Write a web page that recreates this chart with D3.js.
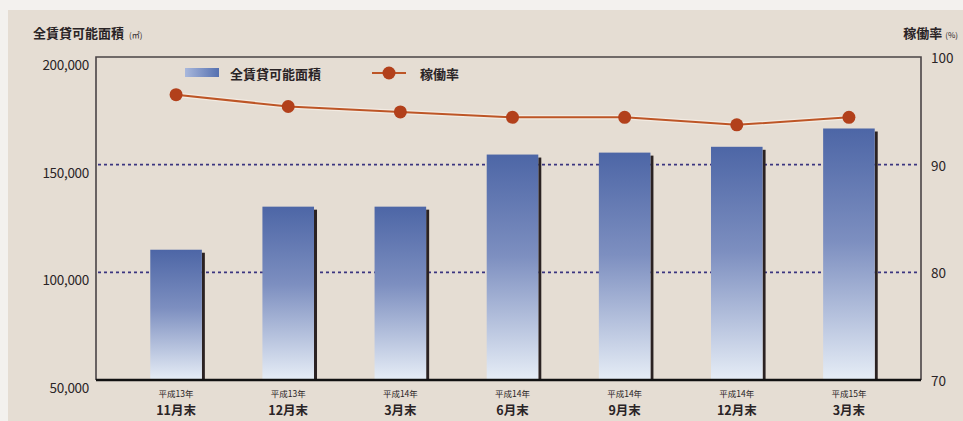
<!DOCTYPE html>
<html>
<head>
<meta charset="utf-8">
<script src="https://cdn.jsdelivr.net/npm/d3@7"></script>
<style>
  html, body { margin: 0; padding: 0; background: #f3f1ee; }
  svg { display: block; }
  text { font-family: "Noto Sans CJK JP", "Noto Sans", sans-serif; fill: #2a2426; }
</style>
</head>
<body>
<svg id="chart" width="963" height="421"></svg>
<script>
// Period labels (year line / month line)
const years = ["平成13年", "平成13年", "平成14年", "平成14年", "平成14年", "平成14年", "平成15年"];
const months = ["11月末", "12月末", "3月末", "6月末", "9月末", "12月末", "3月末"];
// Total leasable floor area (㎡)
const areaValues = [110500, 130500, 130500, 154700, 155600, 158300, 166800];
// Occupancy rate (%)
const occupancyValues = [96.5, 95.4, 94.9, 94.4, 94.4, 93.7, 94.4];
// Axis ticks
const areaTicks = [50000, 100000, 150000, 200000];
const rateTicks = [70, 80, 90, 100];
const gridTicks = [100000, 150000];

const svg = d3.select("#chart");
const W = 963, H = 421;
const plot = { left: 96, right: 921, top: 57, bottom: 380 };

// page background
svg.append("rect").attr("x", 8).attr("y", 10).attr("width", W - 8).attr("height", H - 10).attr("fill", "#e5ddd3");

const idx = d3.range(areaValues.length);
const x = d3.scaleBand().domain(idx).range([120, 905]).paddingInner(0.54).paddingOuter(0.27);
const yL = d3.scaleLinear().domain([50000, 200000]).range([plot.bottom, plot.top]);
const yR = d3.scaleLinear().domain([70, 100]).range([plot.bottom, plot.top]);

const defs = svg.append("defs");
const grad = defs.append("linearGradient").attr("id", "barGrad").attr("x1", 0).attr("y1", 0).attr("x2", 0).attr("y2", 1);
grad.append("stop").attr("offset", "0%").attr("stop-color", "#4d66a6");
grad.append("stop").attr("offset", "45%").attr("stop-color", "#7d8fc0");
grad.append("stop").attr("offset", "100%").attr("stop-color", "#e6edf6");
const lgGrad = defs.append("linearGradient").attr("id", "legGrad").attr("x1", 0).attr("y1", 0).attr("x2", 1).attr("y2", 0);
lgGrad.append("stop").attr("offset", "0%").attr("stop-color", "#a9b8dc");
lgGrad.append("stop").attr("offset", "100%").attr("stop-color", "#5570b0");

// plot frame
svg.append("path")
  .attr("d", `M${plot.left},${plot.bottom} V${plot.top} H${plot.right} V${plot.bottom}`)
  .attr("fill", "none").attr("stroke", "#4a4446").attr("stroke-width", 1.6);

// dotted grid lines
svg.append("g").selectAll("line").data(gridTicks).join("line")
  .attr("x1", plot.left + 2).attr("x2", plot.right - 3)
  .attr("y1", d => yL(d)).attr("y2", d => yL(d))
  .attr("stroke", "#3b3580").attr("stroke-width", 1.6).attr("stroke-dasharray", "3,3");

// bars with a dark right-side shadow
const bars = svg.append("g");
bars.selectAll("rect.shadow").data(idx).join("rect").attr("class", "shadow")
  .attr("x", i => x(i) + x.bandwidth())
  .attr("y", i => yL(areaValues[i]) + 3)
  .attr("width", 3)
  .attr("height", i => plot.bottom - yL(areaValues[i]) - 3)
  .attr("fill", "#2b2222");
bars.selectAll("rect.bar").data(idx).join("rect").attr("class", "bar")
  .attr("x", i => x(i))
  .attr("y", i => yL(areaValues[i]))
  .attr("width", x.bandwidth())
  .attr("height", i => plot.bottom - yL(areaValues[i]))
  .attr("fill", "url(#barGrad)");

// baseline
svg.append("line").attr("x1", plot.left).attr("x2", plot.right)
  .attr("y1", plot.bottom).attr("y2", plot.bottom)
  .attr("stroke", "#111").attr("stroke-width", 2.4);

// occupancy line
const cx = i => x(i) + x.bandwidth() / 2;
const line = d3.line().x(i => cx(i)).y(i => yR(occupancyValues[i]));
svg.append("path").datum(idx).attr("d", line)
  .attr("fill", "none").attr("stroke", "#f6efe6").attr("stroke-width", 4.5).attr("opacity", 0.8);
svg.append("path").datum(idx).attr("d", line)
  .attr("fill", "none").attr("stroke", "#bd5526").attr("stroke-width", 2);
svg.append("g").selectAll("circle").data(idx).join("circle")
  .attr("cx", i => cx(i)).attr("cy", i => yR(occupancyValues[i]))
  .attr("r", 6.5).attr("fill", "#b2401b");

// left axis labels
svg.append("g").selectAll("text").data(areaTicks).join("text")
  .attr("x", 89).attr("y", d => yL(d) + 7)
  .attr("text-anchor", "end").attr("dominant-baseline", "central")
  .attr("font-size", 13.5).attr("letter-spacing", -0.3)
  .text(d => d3.format(",")(d));

// right axis labels
svg.append("g").selectAll("text").data(rateTicks).join("text")
  .attr("x", 931).attr("y", d => yR(d))
  .attr("dominant-baseline", "central")
  .attr("font-size", 13.5)
  .text(d => d);

// axis titles
const t1 = svg.append("text").attr("x", 33).attr("y", 38).attr("font-size", 13).attr("font-weight", 700);
t1.append("tspan").text("全賃貸可能面積");
t1.append("tspan").attr("font-size", 8).attr("font-weight", 400).attr("dx", 5).text("(㎡)");
const t2 = svg.append("text").attr("x", 958).attr("y", 38).attr("font-size", 13).attr("font-weight", 700).attr("text-anchor", "end");
t2.append("tspan").text("稼働率");
t2.append("tspan").attr("font-size", 8).attr("font-weight", 400).attr("dx", 3).text("(%)");

// category labels
const cats = svg.append("g").selectAll("g").data(idx).join("g");
cats.append("text").attr("x", i => cx(i)).attr("y", 397)
  .attr("text-anchor", "middle").attr("font-size", 8.5).text(i => years[i]);
cats.append("text").attr("x", i => cx(i)).attr("y", 415)
  .attr("text-anchor", "middle").attr("font-size", 12.5).attr("font-weight", 700).text(i => months[i]);

// legend
const lg = svg.append("g");
lg.append("rect").attr("x", 185).attr("y", 68).attr("width", 34).attr("height", 9).attr("fill", "url(#legGrad)");
lg.append("text").attr("x", 230).attr("y", 73).attr("dominant-baseline", "central")
  .attr("font-size", 13).attr("font-weight", 700).text("全賃貸可能面積");
lg.append("line").attr("x1", 372).attr("x2", 406).attr("y1", 73).attr("y2", 73)
  .attr("stroke", "#bd5526").attr("stroke-width", 2);
lg.append("circle").attr("cx", 389).attr("cy", 73).attr("r", 6.5).attr("fill", "#b2401b");
lg.append("text").attr("x", 420).attr("y", 73).attr("dominant-baseline", "central")
  .attr("font-size", 13).attr("font-weight", 700).text("稼働率");
</script>
</body>
</html>
